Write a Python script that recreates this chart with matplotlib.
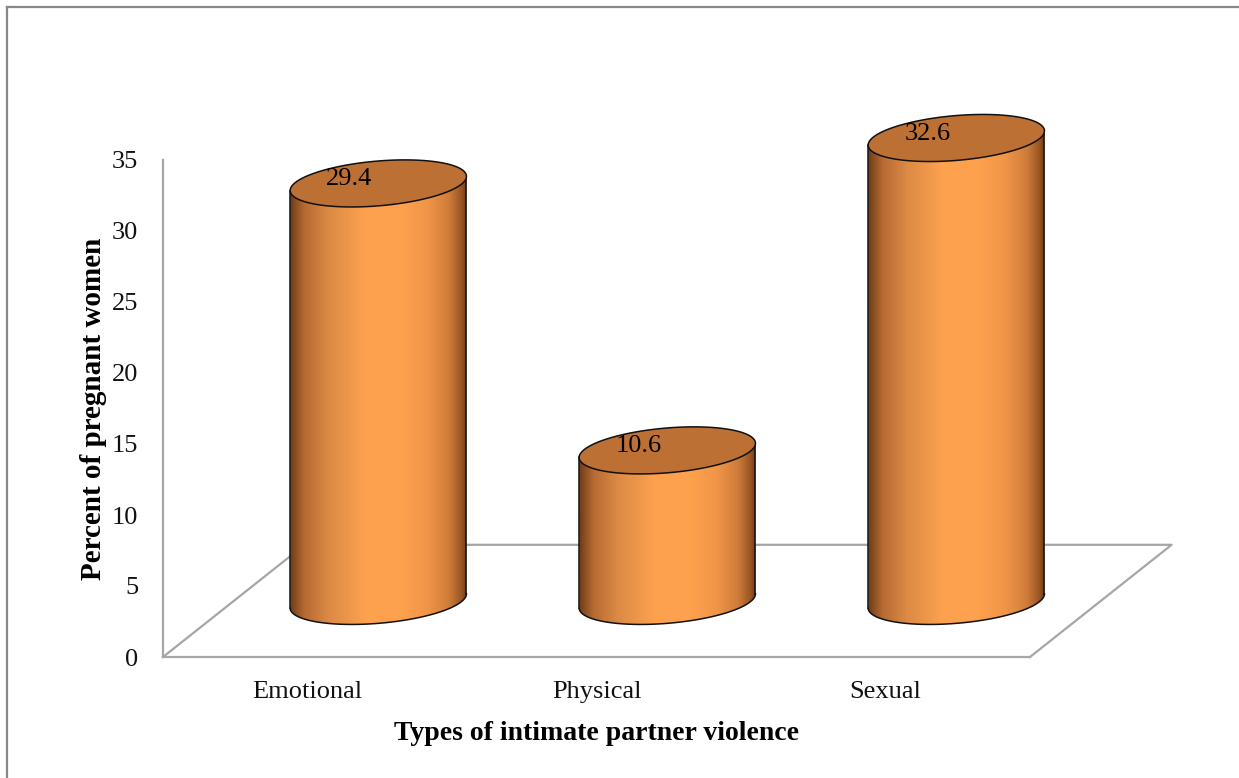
import numpy as np
import matplotlib
matplotlib.use('Agg')
import matplotlib.pyplot as plt
from matplotlib.path import Path
from matplotlib.patches import PathPatch, Polygon
from matplotlib.colors import LinearSegmentedColormap
from matplotlib.lines import Line2D

categories = ['Emotional', 'Physical', 'Sexual']
values = [29.4, 10.6, 32.6]
y_ticks = [0, 5, 10, 15, 20, 25, 30, 35]

plt.rcParams['font.family'] = ['Liberation Serif', 'DejaVu Serif']

W, H = 1239, 778
fig = plt.figure(figsize=(W / 100, H / 100), dpi=100)
ax = fig.add_axes([163 / W, 121 / H, 867 / W, 497 / H])
ax.set_xlim(-0.5, len(categories) - 0.5)
ax.set_ylim(0, 35)

# 3d look: depth of the floor and size of the cylinders (data units)
depth_dx, depth_dy = 0.49, 7.9
rad = 0.305       # half width of a cylinder
eb = 1.58         # vertical half axis of the end ellipses
es = 0.5          # tilt of the ellipses

side_cmap = LinearSegmentedColormap.from_list('side', [
    (0.0, '#6e3c18'), (0.08, '#b66a32'), (0.22, '#dc8a45'), (0.42, '#fca14f'),
    (0.62, '#ffa24e'), (0.78, '#f09548'), (0.9, '#cf7c3a'), (0.97, '#9a5624'),
    (1.0, '#6e3c18')])
top_color = '#bd7034'
grid_color = '#a6a6a6'

# floor
x0, x1 = -0.5, len(categories) - 0.5
ax.plot([x0, x0 + depth_dx, x1 + depth_dx, x1], [0, depth_dy, depth_dy, 0],
        color=grid_color, lw=1.6, clip_on=False, zorder=1)

t = np.linspace(0, 2 * np.pi, 200)


def draw_cylinder(c, base, top):
    up = t[t <= np.pi]
    low = t[t >= np.pi]
    xs = np.concatenate([c + rad * np.cos(up), c + rad * np.cos(low)])
    ys = np.concatenate([top + eb * np.sin(up) + es * np.cos(up),
                         base + eb * np.sin(low) + es * np.cos(low)])
    verts = np.column_stack([xs, ys])
    body = PathPatch(Path(np.vstack([verts, verts[:1]])), transform=ax.transData,
                     facecolor='none', edgecolor='none')
    im = ax.imshow(np.linspace(0, 1, 256).reshape(1, -1), cmap=side_cmap,
                   extent=[c - rad, c + rad, base - 3, top + 3], aspect='auto',
                   interpolation='bilinear', zorder=2)
    im.set_clip_path(body)
    im.set_clip_box(fig.bbox)
    # outline of the side
    ax.plot([c - rad, c - rad], [top - es, base - es], color='#111111', lw=1.1,
            clip_on=False, zorder=3)
    ax.plot([c + rad, c + rad], [top + es, base + es], color='#111111', lw=1.1,
            clip_on=False, zorder=3)
    ax.plot(c + rad * np.cos(low), base + eb * np.sin(low) + es * np.cos(low),
            color='#111111', lw=1.1, clip_on=False, zorder=3)
    # top cap
    cap = Polygon(np.column_stack([c + rad * np.cos(t), top + eb * np.sin(t) + es * np.cos(t)]),
                  closed=True, facecolor=top_color, edgecolor='#111111', lw=1.1,
                  clip_on=False, zorder=4)
    ax.add_patch(cap)


for i, v in enumerate(values):
    c = i + depth_dx / 2
    base = depth_dy / 2
    draw_cylinder(c, base, base + v)
    ax.text(c - 0.1, base + v + 0.3, '%.1f' % v, ha='center', va='center',
            fontsize=19, color='black', zorder=5, clip_on=False)

ax.set_xlim(-0.5, len(categories) - 0.5)
ax.set_ylim(0, 35)
ax.set_xticks(range(len(categories)))
ax.set_xticklabels(categories)
ax.set_yticks(y_ticks)
ax.tick_params(axis='both', length=0, labelsize=19, colors='#111111')
ax.tick_params(axis='y', pad=18)
ax.tick_params(axis='x', pad=17)
for side in ['top', 'right']:
    ax.spines[side].set_visible(False)
for side in ['left', 'bottom']:
    ax.spines[side].set_color(grid_color)
    ax.spines[side].set_linewidth(1.6)
    ax.spines[side].set_zorder(1)
ax.patch.set_visible(False)

ax.set_xlabel('Types of intimate partner violence', fontsize=20, fontweight='bold', labelpad=13)
ax.set_ylabel('Percent of pregnant women', fontsize=21, fontweight='bold', labelpad=3)

# chart area border (only top and left visible)
fig.add_artist(Line2D([7 / W, 1], [1 - 7 / H, 1 - 7 / H], color='#888888', lw=1.6))
fig.add_artist(Line2D([7 / W, 7 / W], [0, 1 - 7 / H], color='#888888', lw=1.6))

fig.savefig('out.png', dpi=100)
